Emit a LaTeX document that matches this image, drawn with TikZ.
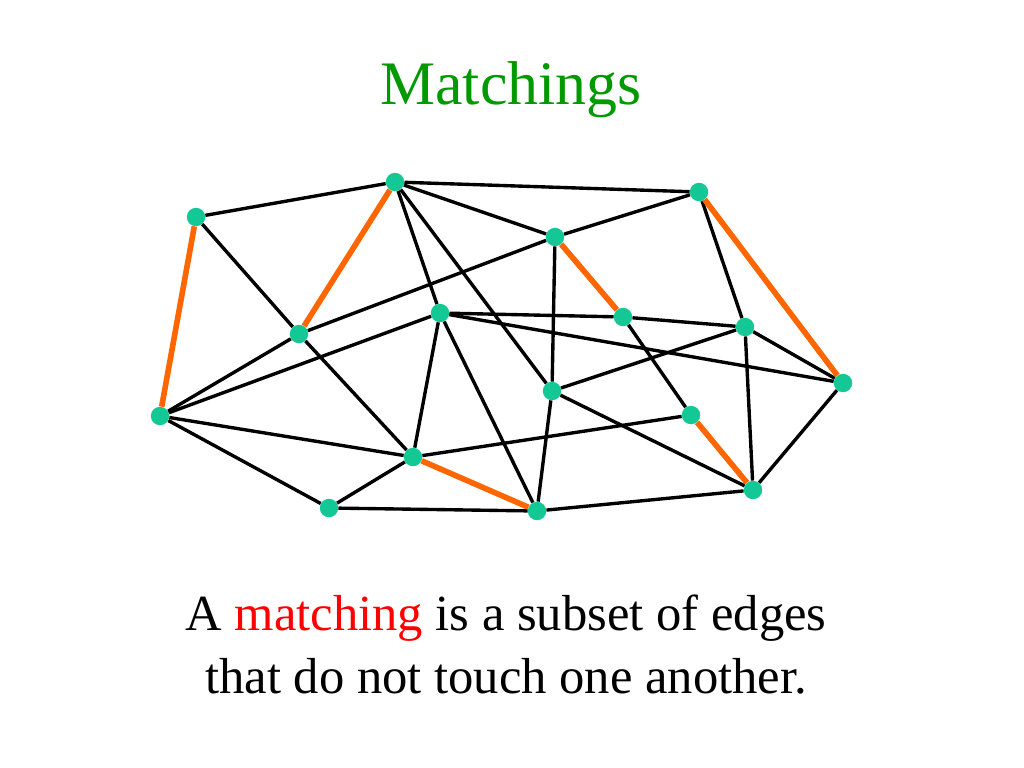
\documentclass[tikz,border=0pt]{standalone}
\usepackage{fontspec}
\setmainfont{Liberation Serif}
\definecolor{vertexgreen}{RGB}{20,200,150}
\definecolor{matchorange}{RGB}{255,102,0}
\definecolor{titlegreen}{RGB}{0,153,0}
\tikzset{
    vertex/.style={circle, fill=vertexgreen, inner sep=0pt, minimum size=0.46cm},
    edge/.style={black, line width=2.4pt},
    matched/.style={matchorange, line width=4pt}
}
\begin{document}
\begin{tikzpicture}[x=0.025cm, y=-0.025cm]
        \useasboundingbox[fill=white] (0, 0) rectangle (1024, 768);
        \node[anchor=base, text=titlegreen, font=\fontsize{44}{50}\selectfont] (title) at (511, 105) {Matchings};

        % vertices
        \node[vertex] (a) at (196, 217) {};
        \node[vertex] (b) at (395, 182) {};
        \node[vertex] (c) at (699, 192) {};
        \node[vertex] (d) at (555, 237) {};
        \node[vertex] (e) at (299, 334) {};
        \node[vertex] (f) at (440, 313) {};
        \node[vertex] (g) at (623, 317) {};
        \node[vertex] (h) at (745, 327) {};
        \node[vertex] (i) at (843, 383) {};
        \node[vertex] (j) at (160, 416) {};
        \node[vertex] (k) at (552, 391) {};
        \node[vertex] (l) at (691, 415) {};
        \node[vertex] (m) at (413, 457) {};
        \node[vertex] (n) at (753, 490) {};
        \node[vertex] (o) at (329, 508) {};
        \node[vertex] (p) at (537, 511) {};

        % edges
        \foreach \u/\v in {a/b, a/e, e/m, b/c, b/d, b/f, b/k, c/d, c/h, d/e, d/k, e/j, f/j, f/m, f/p, f/g, f/i, g/h, g/l, h/k, h/i, h/n, i/n, j/m, j/o, k/n, k/p, l/m, m/o, o/p, p/n}
            \draw[edge] (\u) -- (\v);

        % the matching
        \foreach \u/\v in {a/j, b/e, d/g, c/i, l/n, m/p}
            \draw[matched] (\u) -- (\v);

        \node[anchor=base, font=\fontsize{36}{44}\selectfont] (line1) at (506, 630) {A \textcolor{red}{matching} is a subset of edges};
        \node[anchor=base, font=\fontsize{36}{44}\selectfont] (line2) at (506, 693) {that do not touch one another.};
    \end{tikzpicture}
\end{document}
